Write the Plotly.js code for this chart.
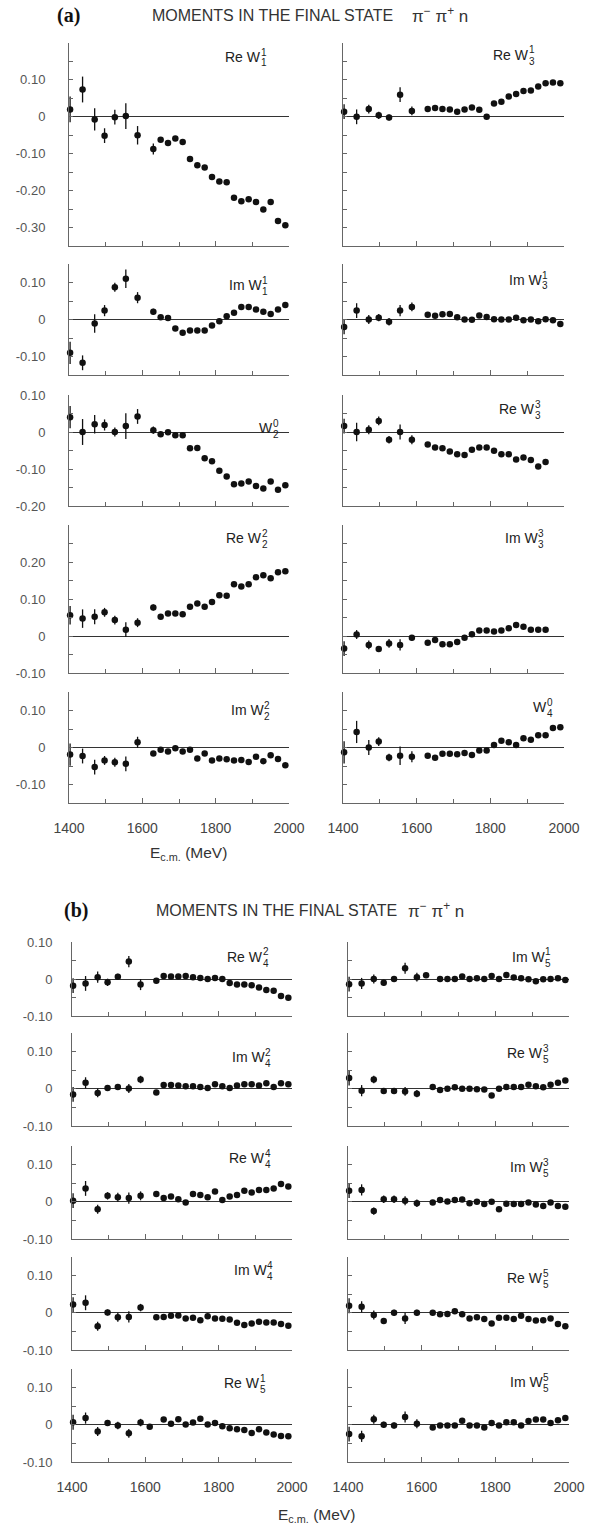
<!DOCTYPE html>
<html>
<head>
<meta charset="utf-8">
<script src="https://cdn.plot.ly/plotly-3.0.1.min.js"></script>
<style>
  html, body { margin: 0; padding: 0; background: #fff; }
  #chart { width: 596px; height: 1529px; }
</style>
</head>
<body>
<div id="chart"></div>
<script>
// Centre-of-mass energies (MeV) of the measured bins
const ENERGY = [1403,1437,1470,1497,1525,1555,1587,1630,1650,1670,1690,1710,1730,1750,1770,1790,1810,1830,1850,1870,1890,1910,1930,1950,1970,1990];
// A few moments have their eighth bin at a slightly lower energy
const ENERGY_SHIFTED = [1403,1437,1470,1497,1525,1555,1587,1612,1650,1670,1690,1710,1730,1750,1770,1790,1810,1830,1850,1870,1890,1910,1930,1950,1970,1990];

// ---- (a) left column ----
const reW11 = [0.020,0.074,-0.007,-0.051,-0.001,0.002,-0.050,-0.087,-0.062,-0.071,-0.059,-0.068,-0.114,-0.131,-0.137,-0.163,-0.175,-0.177,-0.219,-0.229,-0.223,-0.231,-0.251,-0.231,-0.282,-0.294];
const reW11Err = [0.035,0.035,0.030,0.020,0.020,0.035,0.025,0.015];
const imW11 = [-0.090,-0.117,-0.011,0.024,0.087,0.110,0.059,0.021,0.006,0.004,-0.024,-0.036,-0.030,-0.030,-0.030,-0.016,-0.005,0.009,0.018,0.034,0.034,0.027,0.021,0.015,0.027,0.039];
const imW11Err = [0.030,0.020,0.025,0.015,0.012,0.025,0.015,0.008];
const w20 = [0.040,0.000,0.021,0.019,0.000,0.016,0.042,0.005,-0.006,-0.001,-0.009,-0.009,-0.044,-0.043,-0.071,-0.079,-0.105,-0.120,-0.141,-0.139,-0.134,-0.146,-0.153,-0.134,-0.156,-0.144];
const w20Err = [0.030,0.035,0.025,0.015,0.012,0.035,0.020,0.010];
const reW22 = [0.056,0.047,0.052,0.064,0.043,0.017,0.036,0.077,0.052,0.061,0.061,0.059,0.079,0.088,0.079,0.092,0.110,0.109,0.140,0.134,0.140,0.159,0.164,0.156,0.172,0.175];
const reW22Err = [0.025,0.025,0.020,0.012,0.012,0.020,0.012,0.008];
const imW22 = [-0.019,-0.023,-0.053,-0.035,-0.040,-0.044,0.014,-0.016,-0.006,-0.011,-0.002,-0.011,-0.006,-0.030,-0.016,-0.035,-0.030,-0.032,-0.035,-0.034,-0.039,-0.025,-0.037,-0.021,-0.031,-0.048];
const imW22Err = [0.030,0.020,0.020,0.012,0.012,0.020,0.015];

// ---- (a) right column ----
const reW31 = [0.014,0.000,0.021,0.004,-0.002,0.060,0.016,0.021,0.024,0.021,0.020,0.014,0.020,0.025,0.019,0.000,0.036,0.041,0.055,0.062,0.070,0.071,0.082,0.091,0.093,0.091];
const reW31Err = [0.020,0.020,0.012,0.010,0.008,0.020,0.012];
const imW31 = [-0.020,0.024,0.000,0.005,-0.006,0.024,0.034,0.013,0.010,0.014,0.015,0.006,0.000,-0.001,0.011,0.007,0.001,0.000,0.000,0.005,-0.002,0.000,-0.005,0.001,-0.002,-0.012];
const imW31Err = [0.020,0.020,0.012,0.010,0.010,0.015,0.012];
const reW33 = [0.016,0.000,0.006,0.030,-0.021,0.000,-0.021,-0.034,-0.042,-0.044,-0.053,-0.060,-0.062,-0.048,-0.042,-0.042,-0.051,-0.060,-0.060,-0.074,-0.069,-0.076,-0.093,-0.081];
const reW33Err = [0.020,0.025,0.012,0.012,0.010,0.020,0.012];
const imW33 = [-0.034,0.004,-0.024,-0.035,-0.020,-0.024,-0.005,-0.018,-0.011,-0.022,-0.022,-0.016,-0.005,0.005,0.015,0.015,0.012,0.015,0.021,0.030,0.025,0.017,0.017,0.017];
const imW33Err = [0.020,0.012,0.012,0.008,0.012,0.015,0.008];
const w40 = [-0.013,0.042,0.000,0.016,-0.027,-0.022,-0.025,-0.022,-0.028,-0.017,-0.017,-0.018,-0.015,-0.020,-0.008,-0.008,0.007,0.018,0.014,0.007,0.025,0.021,0.033,0.033,0.053,0.055];
const w40Err = [0.030,0.030,0.020,0.012,0.010,0.025,0.015];

// ---- (b) left column ----
const reW42 = [-0.018,-0.012,0.005,-0.009,0.006,0.047,-0.015,-0.005,0.008,0.007,0.007,0.008,0.005,0.003,0.000,0.003,0.000,-0.011,-0.015,-0.015,-0.017,-0.023,-0.030,-0.032,-0.046,-0.051];
const reW42Err = [0.020,0.020,0.015,0.010,0.008,0.015,0.015];
const imW42 = [-0.015,0.016,-0.011,0.002,0.005,0.001,0.025,-0.010,0.010,0.010,0.009,0.007,0.007,0.005,0.002,0.012,0.007,0.002,0.009,0.012,0.012,0.009,0.015,0.005,0.015,0.012];
const imW42Err = [0.020,0.015,0.012,0.008,0.008,0.012,0.010];
const reW44 = [0.003,0.036,-0.020,0.016,0.012,0.010,0.016,0.021,0.010,0.014,0.007,-0.002,0.021,0.018,0.012,0.028,0.005,0.014,0.018,0.030,0.025,0.032,0.032,0.036,0.048,0.041];
const reW44Err = [0.020,0.020,0.012,0.010,0.012,0.015,0.012];
const imW44 = [0.022,0.027,-0.036,0.001,-0.012,-0.011,0.014,-0.012,-0.011,-0.008,-0.007,-0.015,-0.013,-0.020,-0.009,-0.015,-0.016,-0.018,-0.027,-0.033,-0.029,-0.024,-0.026,-0.026,-0.030,-0.035];
const imW44Err = [0.020,0.020,0.012,0.008,0.012,0.015,0.010];
const reW51 = [0.007,0.018,-0.018,0.005,-0.002,-0.023,0.006,-0.005,0.014,0.003,0.015,0.001,0.006,0.016,0.001,0.005,-0.004,-0.009,-0.012,-0.014,-0.022,-0.012,-0.021,-0.026,-0.030,-0.031];
const reW51Err = [0.020,0.015,0.012,0.008,0.010,0.012,0.010];

// ---- (b) right column ----
const imW51 = [-0.014,-0.012,0.000,-0.010,0.000,0.029,0.005,0.010,0.000,0.000,0.000,0.007,0.000,0.002,0.000,0.008,0.000,0.011,0.004,0.002,-0.001,-0.006,-0.001,0.000,0.002,-0.003];
const imW51Err = [0.020,0.015,0.012,0.008,0.008,0.015,0.012];
const reW53 = [0.029,-0.005,0.025,-0.006,-0.006,-0.007,-0.013,0.005,-0.003,0.000,0.004,0.000,0.000,-0.001,-0.002,-0.018,0.000,0.005,0.005,0.005,0.011,0.007,0.004,0.011,0.016,0.022];
const reW53Err = [0.020,0.015,0.010,0.008,0.008,0.012,0.010];
const imW53 = [0.030,0.032,-0.025,0.007,0.007,0.003,-0.004,-0.002,0.005,0.001,0.005,0.006,-0.004,0.000,-0.006,0.000,-0.020,-0.005,-0.006,-0.006,-0.002,-0.007,-0.011,-0.002,-0.011,-0.013];
const imW53Err = [0.020,0.015,0.010,0.010,0.010,0.012,0.010];
const reW55 = [0.019,0.016,-0.006,-0.022,0.000,-0.015,0.000,0.000,-0.004,-0.003,0.004,-0.004,-0.015,-0.012,-0.017,-0.029,-0.013,-0.013,-0.017,-0.008,-0.017,-0.021,-0.020,-0.015,-0.030,-0.036];
const reW55Err = [0.020,0.015,0.012,0.008,0.008,0.015,0.008];
const imW55 = [-0.025,-0.031,0.015,0.000,-0.002,0.021,0.003,-0.007,-0.002,-0.002,-0.002,0.011,-0.002,-0.002,-0.007,0.005,-0.002,0.007,0.007,-0.002,0.010,0.014,0.014,0.005,0.012,0.018];
const imW55Err = [0.020,0.015,0.012,0.008,0.008,0.015,0.012];

// Energy tick labels and y tick values per row
const X_TICKS = [1400, 1600, 1800, 2000];
const X_TICK_TEXT = ['1400', '1600', '1800', '2000'];
const Y_TICKS = {
  a: [[0.1, 0, -0.1, -0.2, -0.3], [0.1, 0, -0.1], [0.1, 0, -0.1, -0.2], [0.2, 0.1, 0, -0.1], [0.1, 0, -0.1]],
  b: [[0.1, 0, -0.1], [0.1, 0, -0.1], [0.1, 0, -0.1], [0.1, 0, -0.1], [0.1, 0, -0.1]]
};
const Y_RANGE = {
  a: [[-0.35, 0.20], [-0.15, 0.15], [-0.20, 0.10], [-0.10, 0.30], [-0.15, 0.15]],
  b: [[-0.10, 0.10], [-0.10, 0.15], [-0.10, 0.15], [-0.10, 0.15], [-0.10, 0.15]]
};

// Page geometry in pixels
const W = 596, H = 1529;
const COL_PX = { a: [[69, 289], [343, 564]], b: [[72, 292], [348, 569]] };
const ROW_PX = {
  a: [[43, 246], [264, 375], [395, 506], [525, 673], [692, 803]],
  b: [[942, 1016], [1033, 1126], [1146, 1239], [1257, 1350], [1369, 1462]]
};
const Y_LABEL_GAP = { a: 20, b: 16 };

// Panel list: which moment goes where, and where its name sits (right edge of "W", centre y)
const PANELS = [
  { part: 'a', col: 0, row: 0, pre: 'Re W', sup: '1', sub: '1', x: ENERGY, y: reW11, err: reW11Err, lab: [261, 57] },
  { part: 'a', col: 0, row: 1, pre: 'Im W', sup: '1', sub: '1', x: ENERGY, y: imW11, err: imW11Err, lab: [262, 285] },
  { part: 'a', col: 0, row: 2, pre: 'W',    sup: '0', sub: '2', x: ENERGY, y: w20,   err: w20Err,   lab: [273, 428] },
  { part: 'a', col: 0, row: 3, pre: 'Re W', sup: '2', sub: '2', x: ENERGY, y: reW22, err: reW22Err, lab: [262, 538] },
  { part: 'a', col: 0, row: 4, pre: 'Im W', sup: '2', sub: '2', x: ENERGY, y: imW22, err: imW22Err, lab: [264, 710] },
  { part: 'a', col: 1, row: 0, pre: 'Re W', sup: '1', sub: '3', x: ENERGY, y: reW31, err: reW31Err, lab: [529, 55] },
  { part: 'a', col: 1, row: 1, pre: 'Im W', sup: '1', sub: '3', x: ENERGY, y: imW31, err: imW31Err, lab: [542, 280] },
  { part: 'a', col: 1, row: 2, pre: 'Re W', sup: '3', sub: '3', x: ENERGY, y: reW33, err: reW33Err, lab: [535, 409] },
  { part: 'a', col: 1, row: 3, pre: 'Im W', sup: '3', sub: '3', x: ENERGY, y: imW33, err: imW33Err, lab: [538, 538] },
  { part: 'a', col: 1, row: 4, pre: 'W',    sup: '0', sub: '4', x: ENERGY, y: w40,   err: w40Err,   lab: [547, 707] },
  { part: 'b', col: 0, row: 0, pre: 'Re W', sup: '2', sub: '4', x: ENERGY, y: reW42, err: reW42Err, lab: [263, 957] },
  { part: 'b', col: 0, row: 1, pre: 'Im W', sup: '2', sub: '4', x: ENERGY, y: imW42, err: imW42Err, lab: [265, 1057] },
  { part: 'b', col: 0, row: 2, pre: 'Re W', sup: '4', sub: '4', x: ENERGY, y: reW44, err: reW44Err, lab: [265, 1158] },
  { part: 'b', col: 0, row: 3, pre: 'Im W', sup: '4', sub: '4', x: ENERGY, y: imW44, err: imW44Err, lab: [267, 1270] },
  { part: 'b', col: 0, row: 4, pre: 'Re W', sup: '1', sub: '5', x: ENERGY_SHIFTED, y: reW51, err: reW51Err, lab: [260, 1383] },
  { part: 'b', col: 1, row: 0, pre: 'Im W', sup: '1', sub: '5', x: ENERGY_SHIFTED, y: imW51, err: imW51Err, lab: [545, 957] },
  { part: 'b', col: 1, row: 1, pre: 'Re W', sup: '3', sub: '5', x: ENERGY, y: reW53, err: reW53Err, lab: [543, 1053] },
  { part: 'b', col: 1, row: 2, pre: 'Im W', sup: '3', sub: '5', x: ENERGY, y: imW53, err: imW53Err, lab: [543, 1167] },
  { part: 'b', col: 1, row: 3, pre: 'Re W', sup: '5', sub: '5', x: ENERGY, y: reW55, err: reW55Err, lab: [543, 1278] },
  { part: 'b', col: 1, row: 4, pre: 'Im W', sup: '5', sub: '5', x: ENERGY, y: imW55, err: imW55Err, lab: [543, 1382] }
];

const INK = '#111';
const AXIS = '#666';
const SANS = 'Liberation Sans, Arial, sans-serif';
const TICKFONT = { family: SANS, size: 13, color: '#555' };
const LABELFONT = { family: SANS, size: 14, color: '#222' };
const SCRIPTFONT = { family: SANS, size: 10, color: '#222' };

const px = v => v / W;
const py = v => 1 - v / H;
const fmt = v => (v === 0 ? '0' : v.toFixed(2));

const traces = [];
const annotations = [];
const layout = {
  width: W, height: H,
  margin: { l: 0, r: 0, t: 0, b: 0 },
  paper_bgcolor: '#fff', plot_bgcolor: '#fff',
  showlegend: false,
  hovermode: false,
  annotations: annotations
};

PANELS.forEach((p, i) => {
  const n = i + 1;
  const xid = n === 1 ? 'x' : 'x' + n;
  const yid = n === 1 ? 'y' : 'y' + n;
  const [x0, x1] = COL_PX[p.part][p.col];
  const [y0, y1] = ROW_PX[p.part][p.row];
  const yt = Y_TICKS[p.part][p.row];
  const bottomRow = p.row === 4;

  layout['xaxis' + (n === 1 ? '' : n)] = {
    domain: [px(x0), px(x1)],
    anchor: yid,
    range: [1400, 2000],
    showgrid: false, zeroline: false,
    showline: true, linecolor: AXIS, linewidth: 1,
    ticks: 'inside', ticklen: 5, tickcolor: AXIS, tickwidth: 1,
    tickmode: 'array', tickvals: X_TICKS, ticktext: X_TICK_TEXT,
    showticklabels: bottomRow,
    tickfont: { family: SANS, size: 14, color: '#444' },
    ticklabelstandoff: 12,
    minor: { tickmode: 'linear', tick0: 1400, dtick: 100, ticks: 'inside', ticklen: 4, tickcolor: AXIS, tickwidth: 1 },
    fixedrange: true
  };
  layout['yaxis' + (n === 1 ? '' : n)] = {
    domain: [py(y1), py(y0)],
    anchor: xid,
    range: Y_RANGE[p.part][p.row],
    showgrid: false,
    zeroline: true, zerolinecolor: '#333', zerolinewidth: 1,
    showline: true, linecolor: AXIS, linewidth: 1,
    ticks: 'inside', ticklen: 4, tickcolor: AXIS, tickwidth: 1,
    tickmode: 'array', tickvals: yt, ticktext: yt.map(fmt),
    showticklabels: p.col === 0,
    tickfont: TICKFONT,
    ticklabelstandoff: Y_LABEL_GAP[p.part],
    minor: { tickmode: 'linear', tick0: 0, dtick: 0.05, ticks: 'inside', ticklen: 4, tickcolor: AXIS, tickwidth: 1 },
    fixedrange: true
  };

  traces.push({
    type: 'scatter', mode: 'markers',
    x: p.x, y: p.y,
    xaxis: xid, yaxis: yid,
    marker: { size: 6.5, color: INK, line: { width: 0 } },
    error_y: { type: 'data', array: p.err, visible: true, color: INK, thickness: 1.3, width: 0 },
    cliponaxis: false
  });

  // Moment name with stacked superscript / subscript
  const [lx, ly] = p.lab;
  annotations.push({ text: p.pre, x: px(lx), y: py(ly), xref: 'paper', yref: 'paper',
    xanchor: 'right', yanchor: 'middle', xshift: 2, showarrow: false, font: LABELFONT });
  annotations.push({ text: p.sup, x: px(lx), y: py(ly - 5), xref: 'paper', yref: 'paper',
    xanchor: 'left', yanchor: 'middle', xshift: -2, showarrow: false, font: SCRIPTFONT });
  annotations.push({ text: p.sub, x: px(lx), y: py(ly + 6), xref: 'paper', yref: 'paper',
    xanchor: 'left', yanchor: 'middle', xshift: -2, showarrow: false, font: SCRIPTFONT });
});

// Part headings
const HEAD = [
  { tag: '(a)', y: 15, tagX: 55, textX: 150, piX: 410 },
  { tag: '(b)', y: 910, tagX: 62, textX: 154, piX: 406 }
];
HEAD.forEach(h => {
  annotations.push({ text: '<b>' + h.tag + '</b>', x: px(h.tagX), y: py(h.y), xref: 'paper', yref: 'paper',
    xanchor: 'left', yanchor: 'middle', showarrow: false,
    font: { family: 'Liberation Serif, Times New Roman, serif', size: 20, color: '#111' } });
  annotations.push({ text: 'MOMENTS IN THE FINAL STATE',
    x: px(h.textX), y: py(h.y), xref: 'paper', yref: 'paper',
    xanchor: 'left', yanchor: 'middle', showarrow: false,
    font: { family: SANS, size: 16, color: '#333' } });
  annotations.push({ text: '\u03c0<sup>\u2212</sup> \u03c0<sup>+</sup> n',
    x: px(h.piX), y: py(h.y), xref: 'paper', yref: 'paper',
    xanchor: 'left', yanchor: 'middle', showarrow: false,
    font: { family: SANS, size: 17, color: '#333' } });
});

// Energy axis titles
const XTITLES = [{ x: 148, y: 853 }, { x: 276, y: 1515 }];
XTITLES.forEach(t => {
  annotations.push({ text: 'E<sub>c.m.</sub> (MeV)', x: px(t.x), y: py(t.y), xref: 'paper', yref: 'paper',
    xanchor: 'left', yanchor: 'middle', showarrow: false,
    font: { family: SANS, size: 15.5, color: '#333' } });
});

Plotly.newPlot('chart', traces, layout, { staticPlot: true, displayModeBar: false });
</script>
</body>
</html>
